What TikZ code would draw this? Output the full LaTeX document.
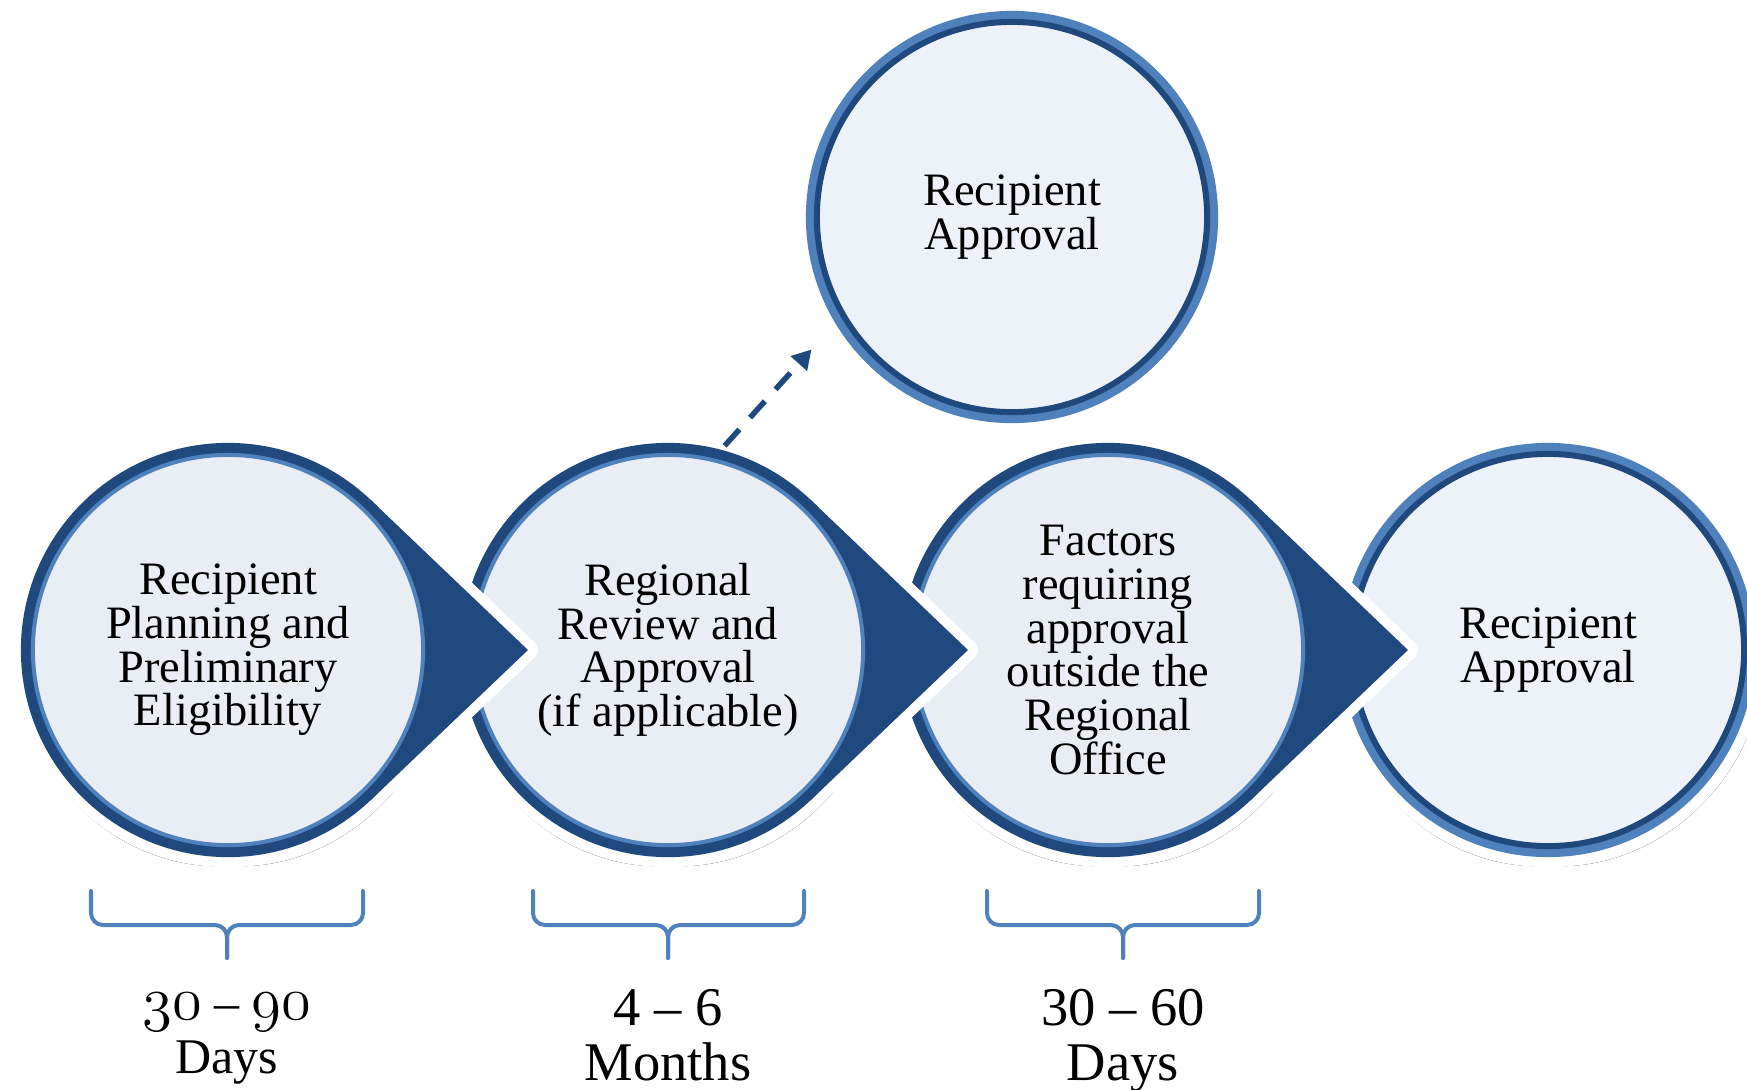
\documentclass[tikz,border=0pt]{standalone}
\usepackage{fontspec}
\setmainfont{Liberation Serif}
\usepackage{tikz}
\usetikzlibrary{arrows.meta,calc,shadows.blur,positioning}

\definecolor{navy}{HTML}{1F497D}
\definecolor{steel}{HTML}{4F81BD}
\definecolor{paleA}{HTML}{E9EDF4}
\definecolor{paleB}{HTML}{EDF2F9}
\newcommand{\oldnum}[1]{{\fontsize{16.5}{15.1}\usefont{OML}{cmm}{m}{it}#1}}

\begin{document}
\begin{tikzpicture}[x=0.01cm, y=-0.01cm,
		halo/.style = {draw=white, fill=white, line width=0.2cm, line join=round,
			blur shadow={shadow xshift=0.01cm, shadow yshift=-0.03cm, shadow blur radius=0.06cm,
				shadow blur extra rounding=0.12cm, shadow opacity=30}},
		disc/.style = {circle, inner sep=0pt, outer sep=0pt, align=center, font=\fontsize{13.2}{12.4}\selectfont},
		stage/.style = {disc, minimum size=3.9cm, fill=paleA, draw=steel, line width=0.04cm,
			preaction={draw=navy, line width=0.24cm}},
		goal/.style = {disc, minimum size=3.92cm, fill=paleB, draw=navy, line width=0.06cm,
			preaction={draw=steel, line width=0.22cm}},
		jump/.style = {navy, line width=0.055cm, dash pattern=on 0.22cm off 0.16cm,
			-{Triangle[length=0.19cm, width=0.21cm]}, shorten <=0.19cm, shorten >=0.47cm},
		span/.style = {draw=steel, line width=0.04cm, rounded corners=0.12cm, line cap=round},
		days/.style = {align=center, inner sep=0pt, anchor=base, font=\fontsize{14.2}{15.1}\selectfont},
		months/.style = {days, font=\fontsize{15.5}{15.4}\selectfont},
	]

	\path[fill=white, use as bounding box] (0,0) rectangle (1747,1090);

	% last disc, no pointer
	\coordinate (c4) at (1548,650);
	\path[halo] (c4) circle (2.07cm);
	\node[goal] (s4) at (c4) {Recipient\\Approval};

	% stage 3
	\coordinate (c3) at (1108,650);
	\coordinate (tip3) at (1408,650);
	\path[halo] (c3) circle (2.07cm) (tip3) -- ($(c3)+(46.4:2.07cm)$) -- ($(c3)+(-46.4:2.07cm)$) -- cycle;
	\fill[navy] (tip3) -- ($(c3)+(46.4:2.07cm)$) -- ($(c3)+(-46.4:2.07cm)$) -- cycle;
	\node[stage] (s3) at (c3) {Factors\\requiring\\approval\\outside the\\Regional\\Office};

	% stage 2
	\coordinate (c2) at (668,650);
	\coordinate (tip2) at (968,650);
	\path[halo] (c2) circle (2.07cm) (tip2) -- ($(c2)+(46.4:2.07cm)$) -- ($(c2)+(-46.4:2.07cm)$) -- cycle;
	\fill[navy] (tip2) -- ($(c2)+(46.4:2.07cm)$) -- ($(c2)+(-46.4:2.07cm)$) -- cycle;
	\node[stage] (s2) at (c2) {Regional\\Review and\\Approval\\(if applicable)};

	% stage 1
	\coordinate (c1) at (228,650);
	\coordinate (tip1) at (528,650);
	\path[halo] (c1) circle (2.07cm) (tip1) -- ($(c1)+(46.4:2.07cm)$) -- ($(c1)+(-46.4:2.07cm)$) -- cycle;
	\fill[navy] (tip1) -- ($(c1)+(46.4:2.07cm)$) -- ($(c1)+(-46.4:2.07cm)$) -- cycle;
	\node[stage] (s1) at (c1) {Recipient\\Planning and\\Preliminary\\Eligibility};

	% side branch
	\node[goal, minimum size=3.9cm] (s0) at (1012,217) {Recipient\\Approval};
	\draw[jump] (s2.77) -- (s0.210);

	% durations
	\draw[span] (91,891) |- (227,925) -- (227,958);
	\draw[span] (363,891) |- (227,925) -- (227,958);
	\draw[span] (533,891) |- (668,925) -- (668,958);
	\draw[span] (804,891) |- (668,925) -- (668,958);
	\draw[span] (987,891) |- (1123,925) -- (1123,958);
	\draw[span] (1259,891) |- (1123,925) -- (1123,958);

	\node[days] (d1) at (227,1073) {\oldnum{30} -- \oldnum{90}\\Days};
	\node[months] (d2) at (668,1080) {4 -- 6\\Months};
	\node[months] (d3) at (1123,1080) {30 -- 60\\Days};

\end{tikzpicture}
\end{document}
